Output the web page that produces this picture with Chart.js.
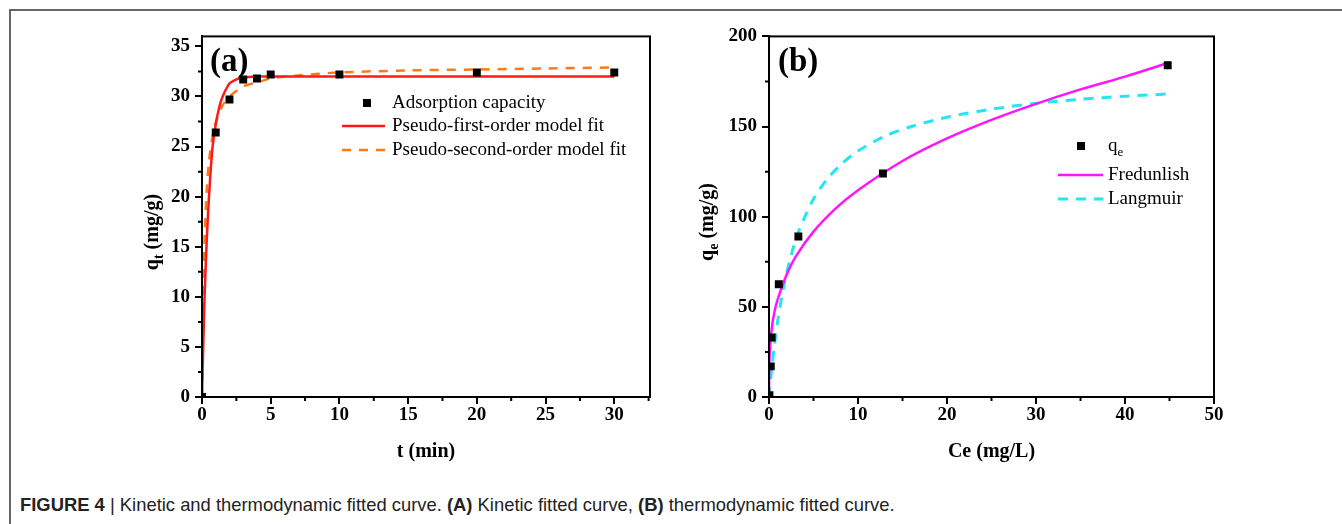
<!DOCTYPE html>
<html>
<head>
<meta charset="utf-8">
<script src="https://cdn.jsdelivr.net/npm/chart.js@4.4.1/dist/chart.umd.min.js"></script>
<style>
  body { margin: 0; background: #fff; width: 1342px; height: 524px; overflow: hidden; position: relative; }
  #frame { position: absolute; left: 9px; top: 9px; right: -5px; bottom: -5px; border-top: 2px solid #666; border-left: 2px solid #666; }
  .panel { position: absolute; top: 20px; }
  #caption { position: absolute; left: 20px; top: 494px; font-family: "Liberation Sans", Arial, sans-serif; font-size: 18.4px; color: #222; white-space: nowrap; }
  #caption b { font-weight: bold; }
</style>
</head>
<body>
<div id="frame"></div>
<div class="panel" style="left:120px"><canvas id="chartA" width="560" height="450"></canvas></div>
<div class="panel" style="left:690px"><canvas id="chartB" width="560" height="450"></canvas></div>
<div id="caption"><b>FIGURE 4</b> | Kinetic and thermodynamic fitted curve. <b>(A)</b> Kinetic fitted curve, <b>(B)</b> thermodynamic fitted curve.</div>
<script>
// (a) kinetics: measured points and the two model fits
const kinT = [0, 1, 2, 3, 4, 5, 10, 20, 30];
const kinQ = [0, 26.4, 29.7, 31.7, 31.8, 32.2, 32.2, 32.4, 32.4];
const pfoT = [0, 0.1, 0.2, 0.35, 0.5, 0.75, 1, 1.25, 1.5, 2, 2.5, 3, 4, 5, 10, 20, 30];
const pfoQ = [0, 5.6, 10.5, 15.8, 19.8, 24.7, 27.2, 28.9, 30.0, 31.3, 31.7, 31.9, 32.0, 32.0, 32.0, 32.0, 32.0];
const psoT = [0, 0.05, 0.1, 0.2, 0.35, 0.5, 0.75, 1, 1.5, 2, 3, 4, 5, 7, 10, 15, 20, 25, 30];
const psoQ = [0, 6.5, 10.8, 16.3, 20.8, 23.4, 25.9, 27.4, 29.1, 30.0, 31.0, 31.4, 31.8, 32.1, 32.4, 32.6, 32.7, 32.8, 32.9];

// (b) isotherms
const isoCe = [0.05, 0.2, 0.3, 1.1, 3.3, 12.8, 44.8];
const isoQe = [1, 17, 33, 62.5, 89, 124, 184];
const freCe = [0, 0.02, 0.1, 0.3, 0.6, 1, 2, 3, 5, 7.5, 10, 15, 20, 25, 30, 35, 40, 45];
const freQ = [0, 15.3, 25.8, 37.5, 46.9, 54.5, 68.1, 77.9, 91.7, 104.6, 114.7, 130.9, 143.4, 153.7, 162.6, 170.6, 177.7, 185.5];
const lanCe = [0, 0.1, 0.3, 0.6, 1, 1.7, 2.5, 3.3, 4, 5, 6.5, 8, 10, 13, 16, 20, 25, 30, 35, 40, 45];
const lanQ = [0, 5.4, 15.4, 28.4, 42.9, 62.4, 78.9, 91.4, 99.6, 109.8, 120.6, 128.6, 136.4, 144.6, 150, 155.2, 159.6, 162.9, 165.1, 166.8, 168.1];

const xyPairs = (xs, ys) => xs.map((x, i) => ({ x: x, y: ys[i] }));
const SERIF = "'Liberation Serif', 'Times New Roman', serif";

// frame, minor ticks, panel letter, axis titles and in-plot legend
const decor = {
  id: "decor",
  afterDraw(chart, args, opts) {
    const ctx = chart.ctx;
    const a = chart.chartArea;
    const xs = chart.scales.x, ys = chart.scales.y;
    ctx.save();
    ctx.strokeStyle = "#000";
    ctx.lineWidth = 2;
    ctx.strokeRect(a.left, a.top, a.right - a.left, a.bottom - a.top);

    // minor ticks
    ctx.beginPath();
    for (let v = xs.min + opts.xMinor; v < xs.max; v += opts.xMinor * 2) {
      const px = xs.getPixelForValue(v);
      ctx.moveTo(px, a.bottom); ctx.lineTo(px, a.bottom + 4);
    }
    for (let v = ys.min + opts.yMinor; v < ys.max; v += opts.yMinor * 2) {
      const py = ys.getPixelForValue(v);
      ctx.moveTo(a.left, py); ctx.lineTo(a.left - 4, py);
    }
    ctx.stroke();

    ctx.fillStyle = "#000";
    ctx.textBaseline = "middle";
    ctx.font = "bold 33px " + SERIF;
    ctx.fillText(opts.letter[0], opts.letter[1], opts.letter[2]);

    // x title
    ctx.font = "bold 20px " + SERIF;
    ctx.textAlign = "center";
    ctx.fillText(opts.xTitle, (a.left + a.right) / 2, opts.xTitleY);

    // y title with subscript
    const t = opts.yTitle;
    ctx.save();
    ctx.translate(opts.yTitleX, opts.yTitleY);
    ctx.rotate(-Math.PI / 2);
    ctx.textAlign = "left";
    ctx.font = "bold 20px " + SERIF;
    const w1 = ctx.measureText(t[0]).width, w3 = ctx.measureText(t[2]).width;
    ctx.font = "bold 14px " + SERIF;
    const w2 = ctx.measureText(t[1]).width;
    const x0 = -(w1 + w2 + w3) / 2;
    ctx.font = "bold 20px " + SERIF;
    ctx.fillText(t[0], x0, 0);
    ctx.font = "bold 14px " + SERIF;
    ctx.fillText(t[1], x0 + w1, 6);
    ctx.font = "bold 20px " + SERIF;
    ctx.fillText(t[2], x0 + w1 + w2, 0);
    ctx.restore();

    // legend
    const L = opts.legend;
    ctx.textAlign = "left";
    L.rows.forEach((r) => {
      const ds = chart.data.datasets[r.ds];
      if (r.kind === "point") {
        ctx.fillStyle = ds.backgroundColor;
        ctx.fillRect(L.mid - 4, r.y - 4, 8, 8);
      } else {
        ctx.strokeStyle = ds.borderColor;
        ctx.lineWidth = ds.borderWidth;
        ctx.setLineDash(ds.borderDash || []);
        ctx.beginPath();
        ctx.moveTo(L.x0, r.y); ctx.lineTo(L.x1, r.y);
        ctx.stroke();
        ctx.setLineDash([]);
      }
      ctx.fillStyle = "#000";
      ctx.font = "19px " + SERIF;
      ctx.fillText(r.text, L.tx, r.y);
      if (r.sub) {
        const w = ctx.measureText(r.text).width;
        ctx.font = "13px " + SERIF;
        ctx.fillText(r.sub, L.tx + w, r.y + 7);
      }
    });
    ctx.restore();
  }
};

function axis(min, max, step, fixed, isX) {
  return {
    type: "linear",
    min: min,
    max: max,
    border: { color: "#000", width: 2 },
    grid: { drawOnChartArea: false, color: "#000", lineWidth: 2, tickLength: 7 },
    ticks: {
      stepSize: step,
      includeBounds: false,
      color: "#000",
      padding: isX ? 0 : 5,
      font: { family: SERIF, size: 19, weight: "bold" }
    },
    afterFit(scale) {
      if (isX) scale.height = fixed; else scale.width = fixed;
    }
  };
}

function lineSet(xs, ys, color, width, dash) {
  return {
    data: xyPairs(xs, ys),
    showLine: true,
    borderColor: color,
    borderWidth: width,
    borderDash: dash,
    pointRadius: 0,
    tension: 0.3,
    fill: false
  };
}

function pointSet(xs, ys) {
  return {
    data: xyPairs(xs, ys),
    showLine: false,
    pointStyle: "rect",
    pointRadius: 5.6,
    backgroundColor: "#000",
    borderColor: "#000",
    borderWidth: 0
  };
}

const common = {
  responsive: false,
  animation: false,
  devicePixelRatio: 1,
  plugins: { legend: { display: false }, tooltip: { enabled: false } }
};

new Chart(document.getElementById("chartA"), {
  type: "scatter",
  data: {
    datasets: [
      pointSet(kinT, kinQ),
      lineSet(pfoT, pfoQ, "#ff1a1a", 2.5, []),
      lineSet(psoT, psoQ, "#ff7a12", 2.5, [9, 8])
    ]
  },
  options: {
    ...common,
    layout: { padding: { top: 14, right: 30, left: 0, bottom: 0 } },
    scales: { x: axis(0, 32.6, 5, 73, true), y: axis(0, 36, 5, 82, false) },
    plugins: {
      ...common.plugins,
      decor: {
        xMinor: 2.5, yMinor: 2.5,
        letter: ["(a)", 90, 42],
        xTitle: "t (min)", xTitleY: 432,
        yTitle: ["q", "t", " (mg/g)"], yTitleX: 33, yTitleY: 212,
        legend: {
          mid: 247, x0: 222, x1: 265, tx: 272,
          rows: [
            { ds: 0, kind: "point", y: 83, text: "Adsorption capacity" },
            { ds: 1, kind: "line", y: 106, text: "Pseudo-first-order model fit" },
            { ds: 2, kind: "line", y: 130, text: "Pseudo-second-order model fit" }
          ]
        }
      }
    }
  },
  plugins: [decor]
});

new Chart(document.getElementById("chartB"), {
  type: "scatter",
  data: {
    datasets: [
      pointSet(isoCe, isoQe),
      lineSet(freCe, freQ, "#ff14ff", 2.5, []),
      lineSet(lanCe, lanQ, "#22e6f2", 3, [10, 8])
    ]
  },
  options: {
    ...common,
    layout: { padding: { top: 13, right: 36, left: 0, bottom: 0 } },
    scales: { x: axis(0, 50, 10, 73, true), y: axis(0, 200, 50, 79, false) },
    plugins: {
      ...common.plugins,
      decor: {
        xMinor: 5, yMinor: 25,
        letter: ["(b)", 88, 42],
        xTitle: "Ce (mg/L)", xTitleY: 432,
        yTitle: ["q", "e", " (mg/g)"], yTitleX: 18, yTitleY: 202,
        legend: {
          mid: 391, x0: 368, x1: 413, tx: 418,
          rows: [
            { ds: 0, kind: "point", y: 126, text: "q", sub: "e" },
            { ds: 1, kind: "line", y: 155, text: "Fredunlish" },
            { ds: 2, kind: "line", y: 179, text: "Langmuir" }
          ]
        }
      }
    }
  },
  plugins: [decor]
});
</script>
</body>
</html>
